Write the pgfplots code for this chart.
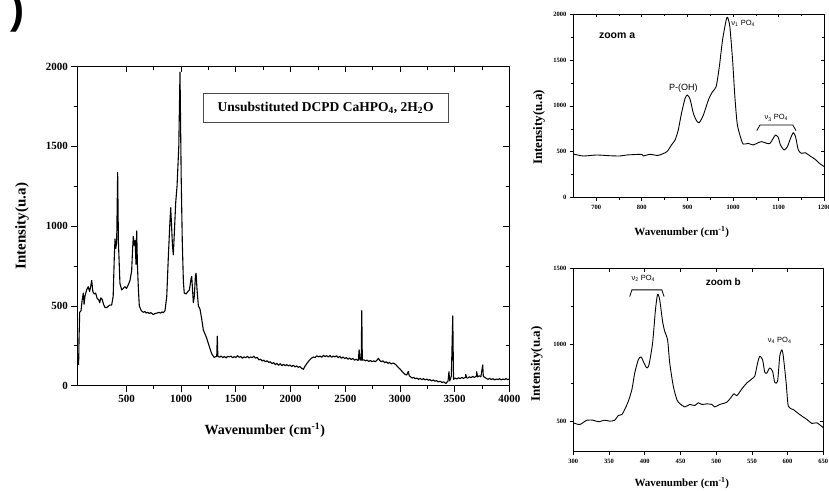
\documentclass[border=0pt]{standalone}
\usepackage{pgfplots}
\pgfplotsset{compat=1.18}
\usepackage{fontspec}
\setmainfont{Liberation Serif}
\newfontfamily\arial{Liberation Sans}

\pgfplotsset{
  base/.style={scale only axis, axis line style={line width=0.9pt},
    every tick/.style={black, line width=0.8pt},
    /pgf/number format/assume math mode=true,
    /pgf/number format/1000 sep={},
    tick align=outside, xtick pos=left, ytick pos=left,
    minor x tick num=1, minor y tick num=1},
  over/.style={scale only axis, axis line style={draw=none},
    every tick/.style={black, line width=0.8pt},
    tick align=inside, xtick pos=right, ytick pos=right,
    xticklabels={}, yticklabels={}, minor x tick num=1, minor y tick num=1},
  spec/.style={black, line width=1.1pt, no marks, line join=round},
}

\begin{document}
\begin{tikzpicture}
\useasboundingbox (0,0) rectangle (829pt,490pt);
\node[anchor=east, font=\arial\bfseries\fontsize{42}{42}\selectfont, inner sep=0pt] at (25pt,477pt) {)};

% ---------------- main spectrum ----------------
\begin{axis}[base, at={(77.3pt,104.3pt)}, anchor=south west,
  width=432pt, height=319.2pt,
  xmin=50, xmax=4000, ymin=0, ymax=2000,
  xtick={500,1000,...,4000}, ytick={0,500,...,2000},
  major tick length=6pt, minor tick length=3.5pt,
  tick label style={font=\bfseries\fontsize{11}{13}\selectfont},
  xlabel={Wavenumber (cm\textsuperscript{-1})},
  ylabel={Intensity(u.a)},
  every axis x label/.style={at={(rel axis cs:0.434,-0.139)}, anchor=center, font=\bfseries\fontsize{14}{16}\selectfont},
  every axis y label/.style={at={(rel axis cs:-0.128,0.5)}, rotate=90, anchor=center, font=\bfseries\fontsize{15}{17}\selectfont},
]
\addplot[spec] coordinates {
(62,130) (66,300) (72,460) (84,470) (95,540) (105,580) (112,510) (120,560)
(135,600) (150,620) (162,590) (172,620) (182,660) (192,590) (205,575) (218,580)
(232,545) (245,540) (255,520) (265,550) (278,540) (290,510) (303,490) (320,490)
(345,505) (364,505) (378,560) (388,800) (395,920) (402,860) (410,900) (419,1335)
(426,900) (440,640) (456,600) (470,610) (486,620) (500,610) (515,630) (532,660)
(547,720) (555,850) (562,935) (570,880) (578,910) (587,760) (593,970) (600,750)
(609,600) (617,500) (635,470) (654,460) (668,465) (680,455) (695,460) (709,452)
(722,458) (745,446) (760,452) (780,455) (795,460) (810,455) (825,462) (836,458)
(852,470) (868,560) (882,800) (895,1000) (904,1115) (912,1000)
(920,880) (928,820) (940,1000) (950,1150) (962,1250) (978,1500) (989,1965) (1000,1300)
(1010,900) (1020,650) (1028,580) (1045,575) (1060,590) (1075,600) (1090,670) (1096,685)
(1104,600) (1111,520) (1120,560) (1130,690) (1136,705) (1145,600) (1157,500) (1172,480)
(1187,420) (1202,350) (1232,300) (1255,250) (1279,200) (1300,178) (1318,182) (1325,185)
(1330,310) (1335,185) (1350,178) (1365,186) (1380,176) (1395,183) (1410,174) (1425,184)
(1440,180) (1455,186) (1470,175) (1485,182) (1500,176) (1515,188) (1530,178) (1545,183)
(1560,172) (1575,181) (1590,175) (1605,184) (1620,174) (1635,180) (1650,176) (1665,185)
(1680,172) (1695,178) (1710,162) (1725,166) (1740,155) (1755,160) (1770,150) (1785,156)
(1800,146) (1815,150) (1830,138) (1845,145) (1860,132) (1875,140) (1890,128) (1905,138)
(1920,126) (1935,134) (1950,125) (1965,132) (1980,124) (1995,130) (2010,120) (2025,128)
(2040,118) (2055,124) (2070,115) (2085,120) (2100,110) (2117,103)
(2130,120) (2150,140) (2170,158) (2190,172) (2210,180) (2225,176) (2240,188) (2255,180)
(2270,186) (2285,178) (2300,190) (2315,182) (2330,188) (2345,180) (2360,190) (2375,178)
(2390,186) (2405,180) (2420,188) (2435,176) (2450,184) (2465,172) (2480,180) (2495,170)
(2510,176) (2525,166) (2540,174) (2555,164) (2570,170) (2585,160) (2600,166) (2615,158)
(2620,160) (2627,225) (2634,162)
(2646,160) (2651,470) (2656,160) (2670,162) (2685,156) (2700,160) (2715,152) (2730,158)
(2745,150) (2760,156) (2775,150) (2790,160) (2803,172) (2815,158) (2830,150) (2845,156)
(2860,144) (2875,150) (2890,140) (2905,146) (2920,136) (2935,142) (2950,138) (2965,130)
(2980,118) (3000,105) (3032,80) (3045,72) (3062,67) (3077,90) (3085,62) (3100,55)
(3110,48) (3125,52) (3140,44) (3155,48) (3170,40) (3185,46) (3200,38) (3215,44)
(3230,36) (3246,42) (3260,34) (3275,38) (3290,30) (3305,36) (3320,28) (3335,32)
(3350,24) (3367,28) (3385,20) (3400,24) (3420,14) (3440,30) (3448,88)
(3455,30) (3470,60) (3483,437) (3490,40) (3505,48) (3520,42) (3535,50) (3550,44)
(3565,52) (3580,46) (3600,52) (3602,71) (3608,50) (3620,48) (3635,56) (3650,50)
(3665,58) (3680,52) (3700,60) (3702,88) (3710,55) (3725,62) (3740,56) (3757,130)
(3762,60) (3775,52) (3790,46) (3805,40) (3820,46) (3835,38) (3850,44) (3865,36)
(3880,42) (3895,38) (3910,44) (3925,36) (3940,42) (3955,38) (3970,44) (3985,38) (4000,42)
};
\node[draw=black!70, line width=0.6pt, minimum width=245pt, minimum height=29pt,
  font=\bfseries\fontsize{13.5}{15}\selectfont, inner sep=0pt] at (axis cs:2320,1743)
  {Unsubstituted DCPD CaHPO\textsubscript{4}, 2H\textsubscript{2}O};
\end{axis}
\begin{axis}[over, at={(77.3pt,104.3pt)}, anchor=south west,
  width=432pt, height=319.2pt,
  xmin=50, xmax=4000, ymin=0, ymax=2000,
  xtick={500,1000,...,4000}, ytick={0,500,...,2000},
  major tick length=6pt, minor tick length=3.5pt]
\end{axis}

% ---------------- inset a ----------------
\begin{axis}[base, at={(573.3pt,292.3pt)}, anchor=south west,
  width=251pt, height=183.7pt,
  xmin=650, xmax=1200, ymin=0, ymax=2000,
  xtick={700,800,...,1200}, ytick={0,500,...,2000},
  major tick length=3.5pt, minor tick length=2pt,
  axis line style={line width=0.7pt}, every tick/.style={black, line width=0.6pt},
  tick label style={font=\bfseries\fontsize{6.5}{8}\selectfont},
  xlabel={Wavenumber (cm\textsuperscript{-1})},
  ylabel={Intensity(u.a)},
  every axis x label/.style={at={(rel axis cs:0.432,-0.185)}, anchor=center, font=\bfseries\fontsize{11}{13}\selectfont},
  every axis y label/.style={at={(rel axis cs:-0.137,0.383)}, rotate=90, anchor=center, font=\bfseries\fontsize{13}{15}\selectfont},
]
\addplot[spec, line width=0.9pt, smooth, tension=0.4] coordinates {
(650,476) (672,454) (701,465) (730,457) (752,454) (767,465) (800,472) (803,454)
(818,472) (836,461) (855,501) (865,574) (873,628) (880,737) (887,918) (895,1082)
(900,1118) (906,1071) (913,918) (920,839) (926,817) (935,900) (946,1064) (955,1154)
(963,1209) (970,1427) (977,1717) (985,1935) (988,1964) (993,1862) (999,1499) (1004,1100)
(1009,810) (1015,682) (1022,584) (1033,592) (1044,574) (1055,599) (1063,610) (1074,592)
(1081,592) (1088,646) (1093,682) (1099,657) (1104,574) (1112,519) (1119,555) (1126,646)
(1132,708) (1137,664) (1143,519) (1150,483) (1158,490) (1169,454) (1180,417) (1191,367)
(1200,338)
};
\node[font=\arial\bfseries\fontsize{10.5}{12}\selectfont] at (axis cs:746,1760) {zoom a};
\node[font=\arial\fontsize{9}{10}\selectfont] at (axis cs:891,1190) {P-(OH)};
\node[anchor=west, font=\arial\fontsize{7.5}{9}\selectfont, inner sep=1pt] at (axis cs:994,1895) {ν\textsubscript{1} PO\textsubscript{4}};
\node[font=\arial\fontsize{7.5}{9}\selectfont, inner sep=1pt] at (axis cs:1095,870) {ν\textsubscript{3} PO\textsubscript{4}};
\draw[line width=0.8pt] (axis cs:1052,730) -- (axis cs:1059,791) -- (axis cs:1131,791) -- (axis cs:1138,730);
\end{axis}
\begin{axis}[over, at={(573.3pt,292.3pt)}, anchor=south west,
  width=251pt, height=183.7pt,
  xmin=650, xmax=1200, ymin=0, ymax=2000,
  xtick={700,800,...,1200}, ytick={0,500,...,2000},
  major tick length=3.5pt, minor tick length=2pt,
  every tick/.style={black, line width=0.6pt}]
\end{axis}

% ---------------- inset b ----------------
\begin{axis}[base, at={(573.3pt,38.3pt)}, anchor=south west,
  width=250pt, height=183.4pt,
  xmin=300, xmax=650, ymin=300, ymax=1500,
  xtick={300,350,...,650}, ytick={500,1000,1500},
  minor x tick num=0,
  major tick length=3.5pt, minor tick length=2pt,
  axis line style={line width=0.7pt}, every tick/.style={black, line width=0.6pt},
  tick label style={font=\bfseries\fontsize{6.5}{8}\selectfont},
  xlabel={Wavenumber (cm\textsuperscript{-1})},
  ylabel={Intensity(u.a)},
  every axis x label/.style={at={(rel axis cs:0.434,-0.17)}, anchor=center, font=\bfseries\fontsize{11}{13}\selectfont},
  every axis y label/.style={at={(rel axis cs:-0.146,0.478)}, rotate=90, anchor=center, font=\bfseries\fontsize{13}{15}\selectfont},
]
\addplot[spec, line width=0.9pt, smooth, tension=0.4] coordinates {
(300,489) (309,478) (319,506) (328,506) (335,496) (344,506) (351,500) (358,506)
(363,537) (368,543) (372,576) (377,630) (382,706) (386,815) (391,902) (395,920)
(399,880) (403,848) (406,870) (411,1011) (415,1228) (418,1330) (421,1293) (425,1152)
(428,1087) (432,1033) (435,880) (440,728) (445,641) (449,615) (456,593) (463,609)
(470,602) (475,620) (480,609) (487,613) (494,609) (498,593) (505,609) (515,624)
(522,663) (525,680) (529,667) (536,711) (543,750) (550,776) (554,793) (558,880)
(561,924) (565,902) (568,820) (571,815) (575,848) (579,826) (582,754) (586,761)
(589,924) (592,967) (594,924) (598,750) (601,598) (608,576) (617,543) (627,511)
(634,485) (641,489) (650,457)
};
\node[font=\arial\bfseries\fontsize{10}{12}\selectfont] at (axis cs:510,1413) {zoom b};
\node[font=\arial\fontsize{7.5}{9}\selectfont, inner sep=1pt] at (axis cs:398,1435) {ν\textsubscript{2} PO\textsubscript{4}};
\node[font=\arial\fontsize{7.5}{9}\selectfont, inner sep=1pt] at (axis cs:589,1030) {ν\textsubscript{4} PO\textsubscript{4}};
\draw[line width=0.8pt] (axis cs:379,1315) -- (axis cs:382,1359) -- (axis cs:424,1359) -- (axis cs:427,1315);
\end{axis}
\begin{axis}[over, at={(573.3pt,38.3pt)}, anchor=south west,
  width=250pt, height=183.4pt,
  xmin=300, xmax=650, ymin=300, ymax=1500,
  xtick={300,350,...,650}, ytick={500,1000,1500}, minor x tick num=0,
  major tick length=3.5pt, minor tick length=2pt,
  every tick/.style={black, line width=0.6pt}]
\end{axis}
\end{tikzpicture}
\end{document}
